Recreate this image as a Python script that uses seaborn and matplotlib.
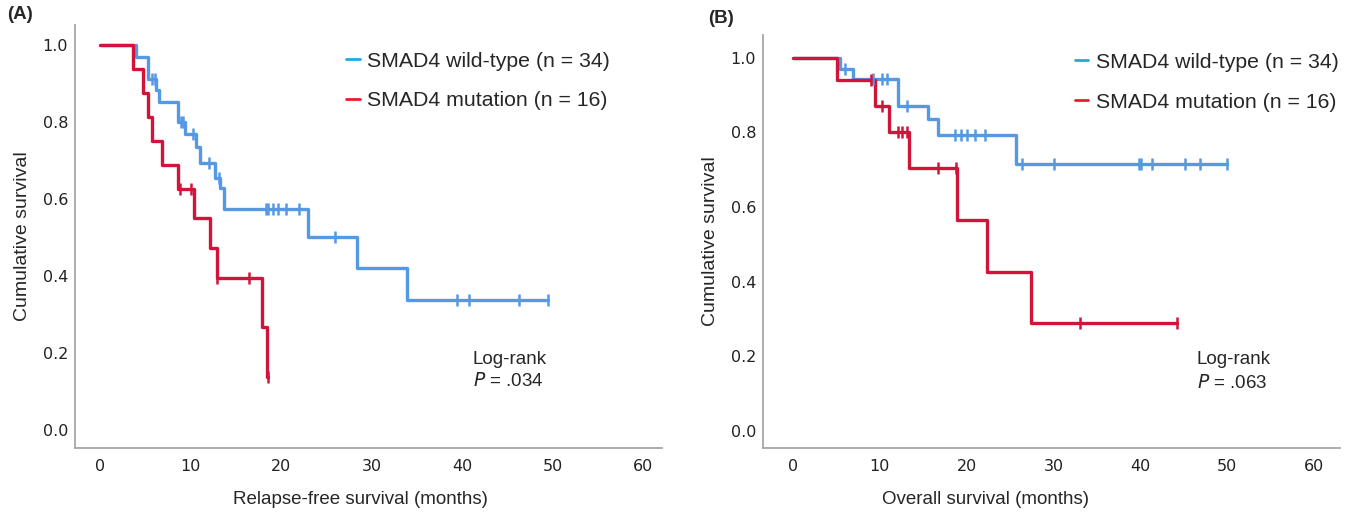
import numpy as np
import pandas as pd
import seaborn as sns
import matplotlib.pyplot as plt
from matplotlib.lines import Line2D

# Panel A - relapse-free survival, step times (months) and survival after each step
rfs_wt_t = [4.0, 5.3, 6.2, 6.5, 8.65, 9.4, 10.6, 11.0, 12.7, 13.3, 13.7, 23.0, 28.4, 33.9]
rfs_wt_s = [0.970, 0.913, 0.882, 0.853, 0.800, 0.770, 0.735, 0.693, 0.655, 0.628, 0.573, 0.502, 0.420, 0.338]
rfs_wt_cens = [5.7, 6.1, 9.0, 9.2, 10.3, 12.0, 13.1, 18.3, 18.6, 19.1, 19.7, 20.6, 22.0, 26.0, 39.4, 40.8, 46.3, 49.5]

rfs_mut_t = [3.7, 4.7, 5.3, 5.8, 6.8, 8.6, 10.4, 12.2, 12.9, 17.9, 18.5]
rfs_mut_s = [0.937, 0.875, 0.812, 0.750, 0.688, 0.625, 0.550, 0.472, 0.394, 0.268, 0.137]
rfs_mut_cens = [8.8, 10.1, 12.9, 16.5, 18.6]

# Panel B - overall survival
os_wt_t = [5.4, 6.9, 12.1, 15.6, 16.7, 25.7]
os_wt_s = [0.971, 0.943, 0.870, 0.835, 0.793, 0.716]
os_wt_cens = [6.0, 9.25, 10.2, 10.8, 13.1, 18.7, 19.4, 20.0, 21.0, 22.1, 26.4, 30.1, 39.8, 40.1, 41.3, 45.2, 46.9, 50.0]

os_mut_t = [5.1, 9.45, 11.1, 13.4, 18.9, 22.3, 27.4]
os_mut_s = [0.940, 0.872, 0.800, 0.705, 0.565, 0.426, 0.288]
os_mut_cens = [9.0, 10.3, 12.1, 12.6, 13.1, 16.7, 18.8, 33.0, 44.2]

labels = ["SMAD4 wild-type (n = 34)", "SMAD4 mutation (n = 16)"]
xlabels = ["Relapse-free survival (months)", "Overall survival (months)"]
pvals = ["= .034", "= .063"]

BLUE = "#5598e4"
RED = "#d2143b"
LEG_BLUE = "#25a8e0"
LEG_RED = "#e3202c"
SPINE = "#a6a6a6"

sns.set_style("white")
plt.rcParams['font.family'] = ['Liberation Sans', 'DejaVu Sans']


def step_frame(times, surv, cens):
    t = [0.0] + list(times)
    s = [1.0] + list(surv)
    end = max(cens[-1], t[-1])
    t.append(end)
    s.append(s[-1])
    steps = pd.DataFrame({"time": t, "surv": s})
    # censor marks sit on the curve at the time they happen
    idx = np.searchsorted(np.array(t[:-1]), cens, side="right") - 1
    marks = pd.DataFrame({"time": cens, "surv": np.array(s)[idx]})
    return steps, marks


def draw_km(ax, groups, colors):
    for (times, surv, cens), color in zip(groups, colors):
        steps, marks = step_frame(times, surv, cens)
        sns.lineplot(data=steps, x="time", y="surv", ax=ax, color=color,
                     drawstyle="steps-post", linewidth=2.4, estimator=None,
                     sort=False, legend=False)
        sns.scatterplot(data=marks, x="time", y="surv", ax=ax, color=color,
                        marker="|", s=70, linewidth=1.8, legend=False, zorder=3)


fig = plt.figure(figsize=(13.54, 5.15), dpi=100)
ax_a = fig.add_axes([75 / 1354, 67 / 515, 587 / 1354, 423 / 515])
ax_b = fig.add_axes([763 / 1354, 67 / 515, 577 / 1354, 413 / 515])

draw_km(ax_a, [(rfs_wt_t, rfs_wt_s, rfs_wt_cens), (rfs_mut_t, rfs_mut_s, rfs_mut_cens)], [BLUE, RED])
draw_km(ax_b, [(os_wt_t, os_wt_s, os_wt_cens), (os_mut_t, os_mut_s, os_mut_cens)], [BLUE, RED])

ax_a.set_xlim(-2.76, 62.1)
ax_a.set_ylim(-0.047, 1.052)
ax_b.set_xlim(-3.46, 63.0)
ax_b.set_ylim(-0.046, 1.061)

handles = [Line2D([], [], color=LEG_BLUE, lw=2), Line2D([], [], color=LEG_RED, lw=2)]
legend_pos = [(0.462, 0.937), (0.540, 0.957)]
text_pos = [(41.2, 0.184, 0.127), (46.5, 0.19, 0.129)]
tag_pos = [(-0.116, 1.024), (-0.095, 1.041)]
xlabel_xy = [(0.487, -0.101), (0.386, -0.103)]

for ax, xl, pv, lp, tp, tag, gp, lxy in zip([ax_a, ax_b], xlabels, pvals, legend_pos, text_pos,
                                            ["(A)", "(B)"], tag_pos, xlabel_xy):
    sns.despine(ax=ax)
    for side in ["left", "bottom"]:
        ax.spines[side].set_color(SPINE)
        ax.spines[side].set_linewidth(1.3)
    ax.set_xticks(range(0, 61, 10))
    ax.set_yticks([0, 0.2, 0.4, 0.6, 0.8, 1.0])
    ax.set_yticklabels(["0.0", "0.2", "0.4", "0.6", "0.8", "1.0"])
    ax.tick_params(length=0, labelsize=11.5, colors="#222222")
    ax.tick_params(axis="x", pad=8)
    ax.tick_params(axis="y", pad=5)
    for lab in ax.get_xticklabels() + ax.get_yticklabels():
        lab.set_family("DejaVu Sans")
    ax.set_xlabel(xl, fontsize=13.5)
    ax.xaxis.set_label_coords(*lxy)
    ax.set_ylabel("Cumulative survival", fontsize=14, labelpad=8)
    ax.legend(handles, labels, loc="upper left", bbox_to_anchor=lp, frameon=False,
              fontsize=15.3, handlelength=0.65, handletextpad=0.35, labelspacing=0.98,
              borderpad=0, borderaxespad=0)
    ax.text(tp[0], tp[1], "Log-rank", fontsize=13.5, va="center")
    ax.text(tp[0], tp[2], "$\\it{P}$ " + pv, fontsize=13.5, va="center")
    ax.text(gp[0], gp[1], tag, transform=ax.transAxes,
            fontsize=13.5, fontweight="bold", va="center")

fig.savefig("out.png", dpi=100)
